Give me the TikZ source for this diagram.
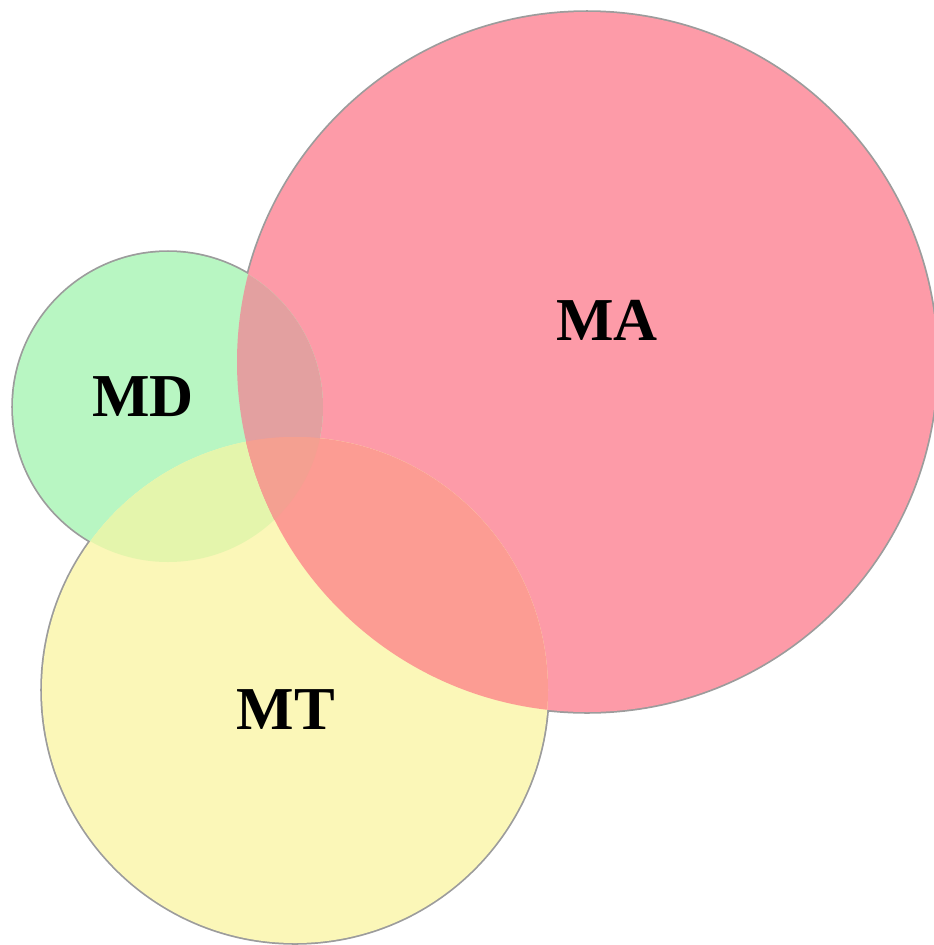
\documentclass[tikz,border=0pt]{standalone}
\usepackage{fontspec}
\setmainfont{Liberation Serif}
\definecolor{cA}{HTML}{FD9BA8}
\definecolor{cD}{HTML}{B8F6C2}
\definecolor{cT}{HTML}{FBF7B8}
\definecolor{cDT}{HTML}{E4F5AC}
\definecolor{cDA}{HTML}{E3A0A0}
\definecolor{cTA}{HTML}{FC9C93}
\definecolor{cDTA}{HTML}{F4A091}
\definecolor{edge}{HTML}{9C9C9C}
\begin{document}
\begin{tikzpicture}[x=0.03cm,y=-0.03cm,
  lbl/.style={font=\fontsize{52}{52}\selectfont\bfseries, text=black, inner sep=0pt},
  rim/.style={draw=edge, line width=3}]
\useasboundingbox (0,0) rectangle (934,945);
\def\pA{(587,362) circle (350)}
\def\pD{(168,407) circle (155)}
\def\pT{(295,690) circle (253)}
% outer rims
\draw[rim] \pA; \draw[rim] \pD; \draw[rim] \pT;
% single fills
\fill[cA] \pA; \fill[cD] \pD; \fill[cT] \pT;
% pairwise overlaps
\begin{scope}\clip \pD; \fill[cDT] \pT; \end{scope}
\begin{scope}\clip \pD; \fill[cDA] \pA; \end{scope}
\begin{scope}\clip \pT; \fill[cTA] \pA; \end{scope}
\begin{scope}\clip \pD; \clip \pT; \fill[cDTA] \pA; \end{scope}
% labels
\node[lbl] (ma) at (607,320) {MA};
\node[lbl] (md) at (143,397) {MD};
\node[lbl] (mt) at (286,710) {MT};
\end{tikzpicture}
\end{document}
